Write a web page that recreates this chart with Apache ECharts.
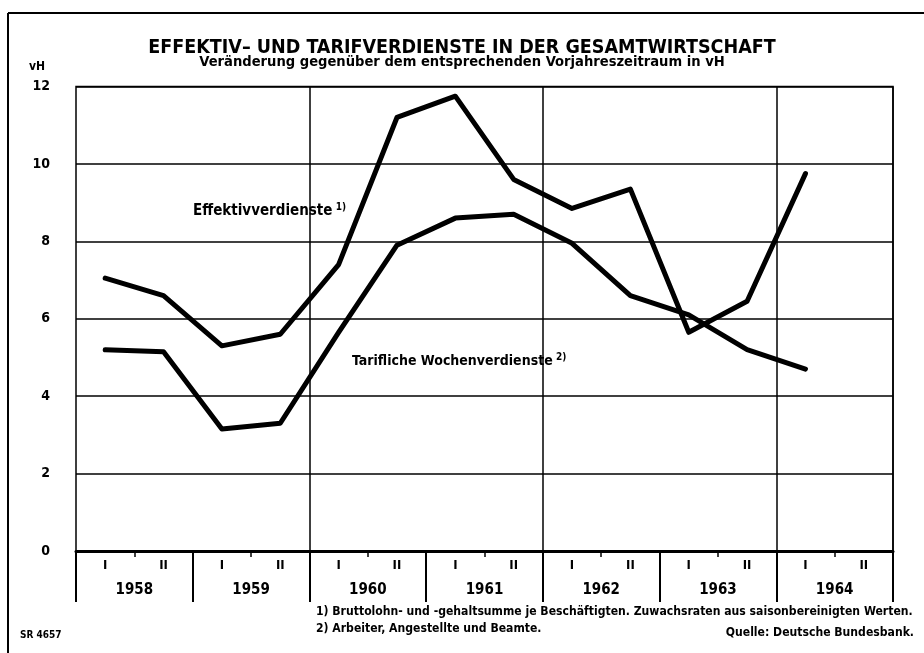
<!DOCTYPE html>
<html>
<head>
<meta charset="utf-8">
<script src="https://cdn.jsdelivr.net/npm/echarts@6/dist/echarts.min.js"></script>
<style>
html,body{margin:0;padding:0;background:#fff;}
#chart{width:924px;height:653px;}
</style>
</head>
<body>
<div id="chart"></div>
<script>
// ---- data ----
const years = ['1958','1959','1960','1961','1962','1963','1964'];
const halfYearLabels = ['I','II','I','II','I','II','I','II','I','II','I','II','I','II'];
const effektiv = [7.05, 6.6, 5.3, 5.6, 7.4, 11.2, 11.75, 9.6, 8.85, 9.35, 5.65, 6.45, 9.75, null];
const tariflich = [5.2, 5.15, 3.15, 3.3, 5.65, 7.9, 8.6, 8.7, 7.95, 6.6, 6.1, 5.2, 4.7, null];
const yTicks = {min: 0, max: 12, interval: 2};

const titleText = 'EFFEKTIV– UND TARIFVERDIENSTE IN DER GESAMTWIRTSCHAFT';
const subText = 'Veränderung gegenüber dem entsprechenden Vorjahreszeitraum in vH';
const note1 = '1) Bruttolohn- und -gehaltsumme je Beschäftigten. Zuwachsraten aus saisonbereinigten Werten.';
const note2 = '2) Arbeiter, Angestellte und Beamte.';
const source = 'Quelle: Deutsche Bundesbank.';
const code = 'SR 4657';

const FONT2 = '"DejaVu Sans Condensed","Liberation Sans",sans-serif';

const chart = echarts.init(document.getElementById('chart'), null, {renderer: 'canvas'});
chart.setOption({
  backgroundColor: '#fff',
  animation: false,
  title: {
    text: titleText,
    subtext: subText,
    left: 'center',
    top: 33,
    itemGap: -3,
    textStyle: {fontFamily: FONT2, fontWeight: 'bold', fontSize: 19.5, color: '#000'},
    subtextStyle: {fontFamily: FONT2, fontWeight: 'bold', fontSize: 14.6, color: '#000'}
  },
  grid: {
    left: 76, right: 31, top: 86.5, bottom: 102,
    show: true, borderColor: '#000', borderWidth: 1.5
  },
  xAxis: [
    {
      type: 'category', data: halfYearLabels, boundaryGap: true, position: 'bottom',
      axisLine: {show: true, lineStyle: {color: '#000', width: 3}},
      axisTick: {show: true, length: 6, interval: function (i) { return i % 2 === 1; }, lineStyle: {color: '#000', width: 1.5}},
      axisLabel: {interval: 0, margin: 8, fontFamily: FONT2, fontWeight: 'bold', fontSize: 13, color: '#000'},
      splitLine: {show: false}
    },
    {
      type: 'category', data: years, boundaryGap: true, position: 'bottom',
      axisLine: {show: false},
      axisTick: {show: true, length: 51, interval: 0, lineStyle: {color: '#000', width: 2}},
      axisLabel: {interval: 0, margin: 32, fontFamily: FONT2, fontWeight: 'bold', fontSize: 15, color: '#000'},
      splitLine: {show: true, interval: function (i) { return i > 0 && i % 2 === 0; }, lineStyle: {color: '#000', width: 1.5}}
    }
  ],
  yAxis: {
    type: 'value', min: yTicks.min, max: yTicks.max, interval: yTicks.interval,
    axisLine: {show: false}, axisTick: {show: false},
    axisLabel: {margin: 26, fontFamily: FONT2, fontWeight: 'bold', fontSize: 14, color: '#000'},
    splitLine: {show: true, lineStyle: {color: '#000', width: 1.5}}
  },
  series: [
    {
      name: 'Effektivverdienste', type: 'line', data: effektiv, xAxisIndex: 0,
      showSymbol: false, symbol: 'none', connectNulls: false,
      lineStyle: {color: '#000', width: 5, join: 'round', cap: 'round'}
    },
    {
      name: 'Tarifliche Wochenverdienste', type: 'line', data: tariflich, xAxisIndex: 0,
      showSymbol: false, symbol: 'none', connectNulls: false,
      lineStyle: {color: '#000', width: 5, join: 'round', cap: 'round'}
    }
  ],
  graphic: [
    {type: 'line', shape: {x1: 8, y1: 13, x2: 924, y2: 13}, style: {stroke: '#000', lineWidth: 2}},
    {type: 'line', shape: {x1: 8, y1: 13, x2: 8, y2: 653}, style: {stroke: '#000', lineWidth: 2}},
    {type: 'text', left: 29, top: 61, style: {text: 'vH', font: 'bold 12px ' + FONT2, fill: '#000'}},
    {type: 'text', left: 193, top: 202, style: {
      text: '{a|Effektivverdienste} {s|1)}',
      rich: {a: {font: 'bold 15px ' + FONT2, fill: '#000'}, s: {font: 'bold 10px ' + FONT2, fill: '#000', verticalAlign: 'top', padding: [0,0,8,0]}}
    }},
    {type: 'text', left: 352, top: 352, style: {
      text: '{a|Tarifliche Wochenverdienste} {s|2)}',
      rich: {a: {font: 'bold 14px ' + FONT2, fill: '#000'}, s: {font: 'bold 10px ' + FONT2, fill: '#000', verticalAlign: 'top', padding: [0,0,8,0]}}
    }},
    {type: 'text', left: 316, top: 606, style: {text: note1, font: 'bold 12.1px ' + FONT2, fill: '#000'}},
    {type: 'text', left: 316, top: 623, style: {text: note2, font: 'bold 12.1px ' + FONT2, fill: '#000'}},
    {type: 'text', right: 10, top: 627, style: {text: source, font: 'bold 12.1px ' + FONT2, fill: '#000'}},
    {type: 'text', left: 20, top: 630, style: {text: code, font: 'bold 10px ' + FONT2, fill: '#000'}}
  ]
});
</script>
</body>
</html>
